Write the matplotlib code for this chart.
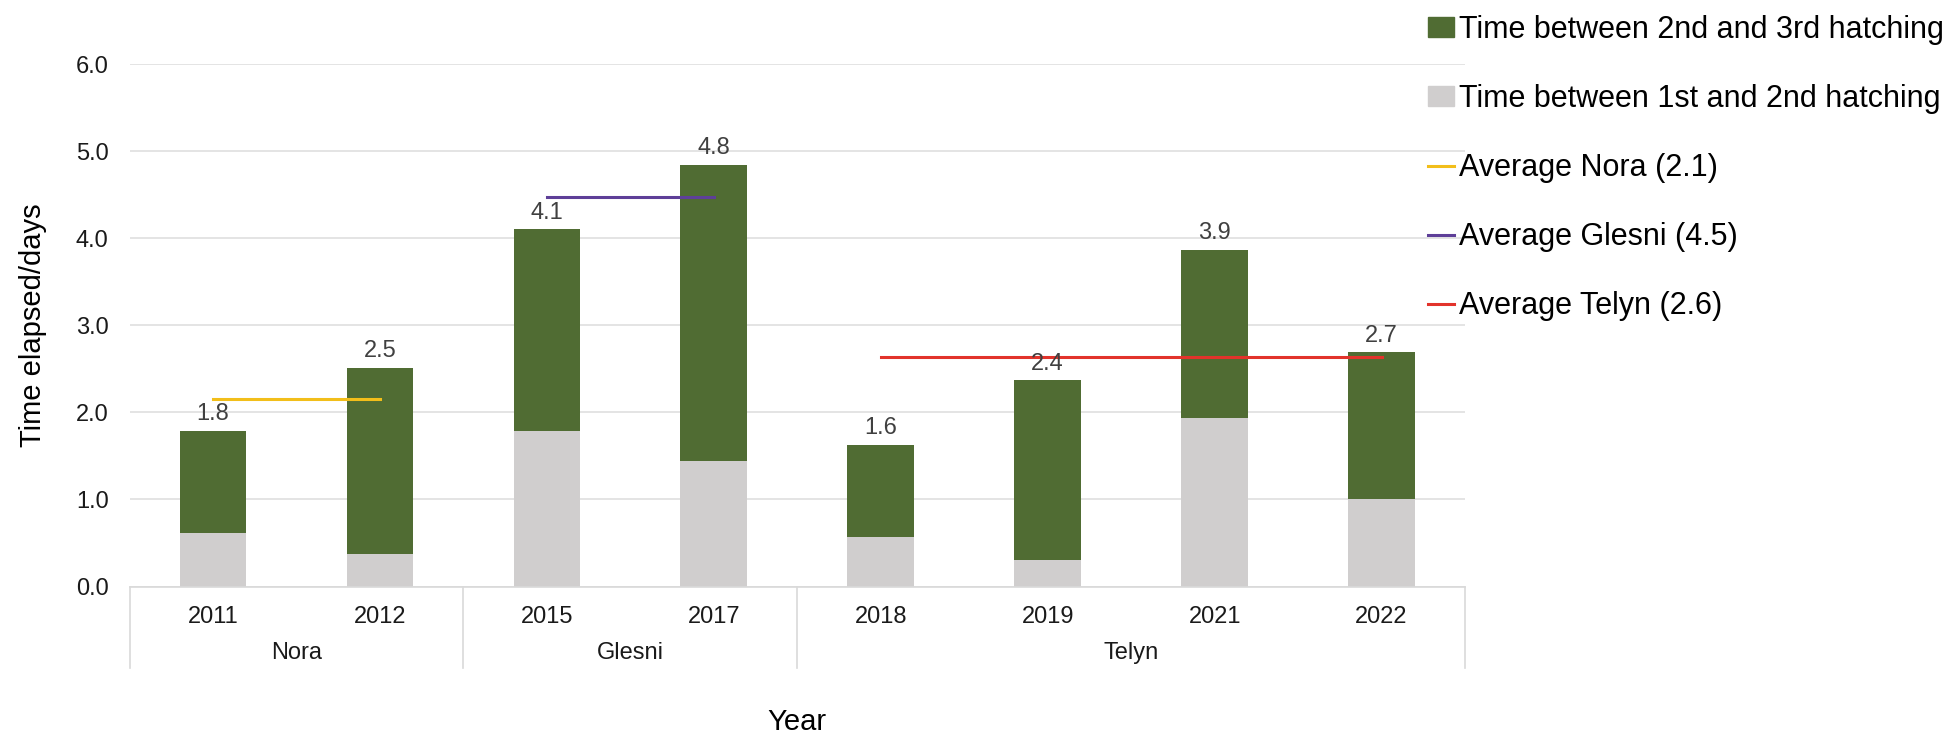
import matplotlib
matplotlib.use("Agg")
from matplotlib import pyplot as plt
from matplotlib.patches import Patch
from matplotlib.lines import Line2D
import matplotlib.transforms as mtransforms

plt.rcParams['font.family'] = ['Liberation Sans', 'DejaVu Sans']

# data
years = ['2011', '2012', '2015', '2017', '2018', '2019', '2021', '2022']
groups = ['Nora', 'Glesni', 'Telyn']
group_sizes = [2, 2, 4]
first_to_second = [0.62, 0.37, 1.79, 1.44, 0.57, 0.30, 1.93, 1.01]
totals = [1.79, 2.51, 4.10, 4.84, 1.63, 2.37, 3.87, 2.69]
second_to_third = [t - f for t, f in zip(totals, first_to_second)]
averages = [2.15, 4.47, 2.63]
avg_labels = ['Average Nora (2.1)', 'Average Glesni (4.5)', 'Average Telyn (2.6)']

green = '#506C33'
grey = '#D0CECE'
avg_colors = ['#F2BE1A', '#5E3F98', '#E2332B']
grid_col = '#E4E4E4'
text_col = '#404040'
tick_col = '#1A1A1A'

fig = plt.figure(figsize=(19.48, 7.36), dpi=100)
ax = fig.add_axes([0.0665, 0.2031, 0.6856, 0.7099])

x = list(range(len(years)))
ax.bar(x, first_to_second, width=0.4, color=grey, zorder=2)
ax.bar(x, second_to_third, width=0.4, bottom=first_to_second, color=green, zorder=2)

for xi, t in zip(x, totals):
    ax.annotate('%.1f' % t, (xi, t), xytext=(0, 4), textcoords='offset points',
                ha='center', va='bottom', fontsize=17, color=text_col, zorder=4)

# average lines go from first to last bar centre of each group
start = 0
for g, n in enumerate(group_sizes):
    ax.plot([start, start + n - 1], [averages[g]] * 2, color=avg_colors[g], lw=2.2, zorder=3)
    start += n

ax.set_xlim(-0.5, len(years) - 0.5)
ax.set_ylim(0, 6)
ax.set_yticks([0, 1, 2, 3, 4, 5, 6])
ax.set_yticklabels(['%.1f' % v for v in range(7)], fontsize=17, color=tick_col)
ax.yaxis.grid(True, color=grid_col, lw=1.4, zorder=0)
ax.set_axisbelow(True)
for s in ['top', 'right', 'left']:
    ax.spines[s].set_visible(False)
ax.spines['bottom'].set_color('#D9D9D9')
ax.spines['bottom'].set_linewidth(1.2)
ax.tick_params(axis='y', length=0, pad=15)
ax.tick_params(axis='x', length=0, pad=14)
ax.set_xticks(x)
ax.set_xticklabels(years, fontsize=17, color=tick_col)

# group label box under the axis
trans = mtransforms.blended_transform_factory(ax.transData, ax.transAxes)
box_depth = -0.156
start = 0
edges = [-0.5]
for g, n in enumerate(group_sizes):
    mid = start + (n - 1) / 2
    ax.text(mid, -0.127, groups[g], transform=trans, ha='center', va='center',
            fontsize=17, color=tick_col)
    start += n
    edges.append(start - 0.5)
for e in edges:
    ax.plot([e, e], [0, box_depth], transform=trans, color='#D9D9D9', lw=1.2, clip_on=False)

ax.set_ylabel('Time elapsed/days', fontsize=21)
ax.yaxis.set_label_coords(-0.062, 0.5)
fig.text(0.0665 + 0.6856 / 2, 1 - 722 / 736, 'Year', ha='center', va='center', fontsize=21)

handles = [Patch(color=green, label='Time between 2nd and 3rd hatching'),
           Patch(color=grey, label='Time between 1st and 2nd hatching')]
for c, l in zip(avg_colors, avg_labels):
    handles.append(Line2D([0], [0], color=c, lw=2.2, label=l))
fig.legend(handles=handles, loc='upper left', bbox_to_anchor=(1425 / 1948, 0.984),
           frameon=False, fontsize=22, handlelength=0.85, handleheight=0.6,
           handletextpad=0.15, labelspacing=1.28, borderpad=0.1, borderaxespad=0)

fig.savefig('out.png', dpi=100)
